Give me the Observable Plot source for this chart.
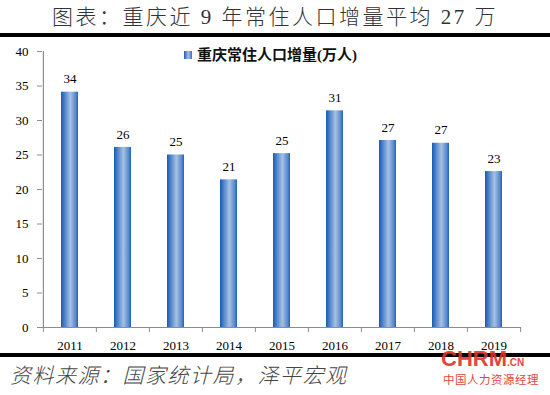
<!DOCTYPE html>
<html><head><meta charset="utf-8">
<script src="https://cdn.jsdelivr.net/npm/d3@7"></script>
<script src="https://cdn.jsdelivr.net/npm/@observablehq/plot@0.6"></script>
<style>
body{margin:0;width:550px;height:395px;position:relative;background:#fff;overflow:hidden;font-family:"Liberation Serif","Noto Sans CJK SC",serif;}
#title{position:absolute;left:0;top:0;width:550px;height:33px;line-height:35px;text-align:center;font-size:21px;font-weight:300;color:#333;letter-spacing:2.5px;font-family:"Liberation Serif","Noto Sans CJK SC",serif;}
.rule{position:absolute;left:0;width:550px;height:4px;background:#000;}
#chart{position:absolute;left:0;top:38px;}
#legend{position:absolute;left:184px;top:43px;font-size:15px;font-weight:bold;color:#111;font-family:"Liberation Serif","Noto Sans CJK SC",serif;white-space:nowrap;}
#legend .sw{display:inline-block;width:8px;height:8px;margin-right:5px;vertical-align:1px;background:linear-gradient(to right,#1e5cb3,#a6bfe2 55%,#3a72c0);}
#source{position:absolute;left:10px;top:359px;font-size:21px;font-style:italic;font-weight:300;color:#444;letter-spacing:1.5px;font-family:"Liberation Serif","Noto Sans CJK SC",serif;white-space:nowrap;}
#wm{position:absolute;left:441px;top:346px;color:#e0322c;opacity:0.9;font-family:"Liberation Sans","DejaVu Sans",sans-serif;}
#wm .big{font-size:22px;font-weight:bold;letter-spacing:0px;}
#wm .cn{font-size:10px;font-weight:bold;}
#wm .zh{position:absolute;left:2px;top:25px;font-size:11.5px;letter-spacing:0.5px;white-space:nowrap;font-family:"Noto Sans CJK SC",sans-serif;}
</style></head><body>
<div id="title">图表：重庆近 9 年常住人口增量平均 27 万</div>
<div class="rule" style="top:33px"></div>
<div id="chart"></div>
<div id="legend"><span class="sw"></span>重庆常住人口增量(万人)</div>
<div class="rule" style="top:353px"></div>
<div id="source">资料来源：国家统计局，泽平宏观</div>
<div id="wm"><span class="big">CHRM</span><span class="cn">.CN</span><div class="zh">中国人力资源经理</div></div>
<script>
const years = ["2011","2012","2013","2014","2015","2016","2017","2018","2019"];
const values = [34.1, 26.1, 25.0, 21.4, 25.2, 31.4, 27.1, 26.7, 22.6];
const labels = ["34","26","25","21","25","31","27","27","23"];
const yTicks = [0,5,10,15,20,25,30,35,40];

const data = years.map((y,i)=>({year:y, value:values[i], label:labels[i]}));
const W = 550, ML = 42, MR = 29;
const bw = (W - ML - MR) / years.length;
const font = "Liberation Serif, serif";

const plot = Plot.plot({
  width: W, height: 314,
  marginTop: 13, marginBottom: 25, marginLeft: ML, marginRight: MR,
  style: {fontFamily: font, fontSize: "13px", color: "#000", background: "transparent"},
  x: {domain: years, padding: 0, axis: null, label: null},
  y: {domain: [0, 40], axis: null, label: null},
  marks: [
    Plot.barY(data, {x: "year", y: "value", fill: "url(#barGrad)", insetLeft: 18, insetRight: 18}),
    Plot.text(data, {x: "year", y: "value", text: "label", dy: -13, fontSize: 13, fill: "#000"}),
    Plot.ruleY([0], {stroke: "#8c8c8c", strokeWidth: 1.2}),
    Plot.ruleX([years[0]], {dx: -bw/2, stroke: "#8c8c8c", strokeWidth: 1.2}),
    Plot.axisY({ticks: yTicks, tickSize: 5, tickPadding: 9, stroke: "#8c8c8c", fill: "#000", fontSize: 13, label: null}),
    Plot.axisX({ticks: years, tickSize: 5, tickFormat: () => "", dx: -bw/2, stroke: "#8c8c8c", label: null}),
    Plot.axisX({ticks: [years[years.length-1]], tickSize: 5, tickFormat: () => "", dx: bw/2, stroke: "#8c8c8c", label: null}),
    Plot.axisX({ticks: years, tickSize: 0, tickPadding: 13, fill: "#000", fontSize: 13, label: null})
  ]
});
d3.select(plot).insert("defs", ":first-child").html(
  `<linearGradient id="barGrad" x1="0" x2="1" y1="0" y2="0">
     <stop offset="0" stop-color="#1c58ae"/>
     <stop offset="0.15" stop-color="#3c77c6"/>
     <stop offset="0.55" stop-color="#a7c0e3"/>
     <stop offset="0.85" stop-color="#5a8cd0"/>
     <stop offset="1" stop-color="#2262b8"/>
   </linearGradient>`);
document.getElementById("chart").appendChild(plot);
</script>
</body></html>
